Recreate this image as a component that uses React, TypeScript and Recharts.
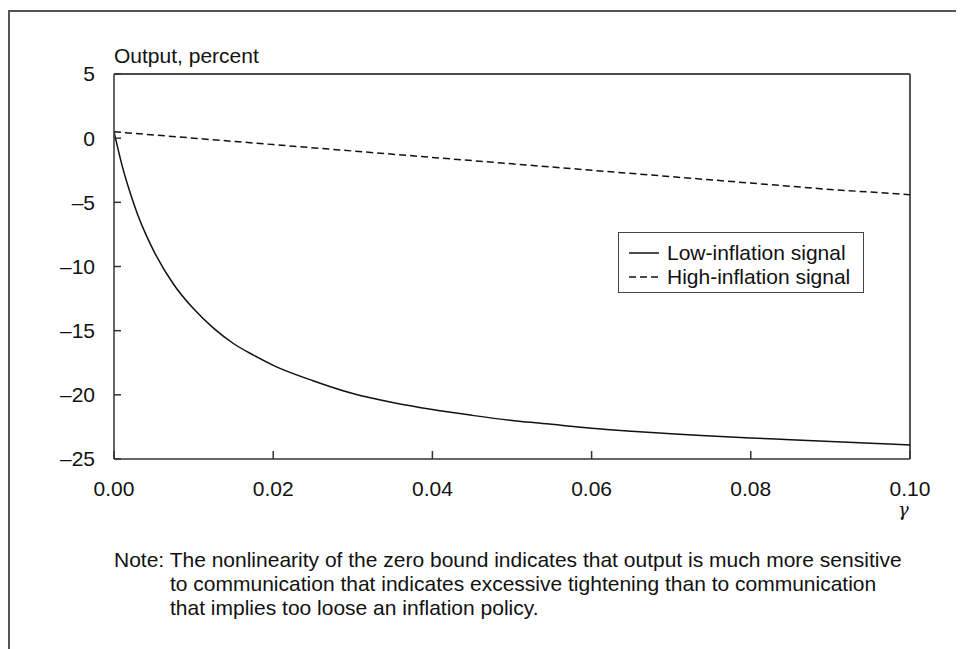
import React from 'react';
import { LineChart, Line, XAxis, YAxis, ReferenceLine } from 'recharts';

// gamma values and output (percent)
const lowGamma = [0, 0.001, 0.002, 0.003, 0.004, 0.005, 0.0075, 0.01, 0.0125, 0.015, 0.0175, 0.02, 0.025, 0.03, 0.035, 0.04, 0.045, 0.05, 0.055, 0.06, 0.065, 0.07, 0.075, 0.08, 0.085, 0.09, 0.095, 0.1];
const lowOutput = [0.5, -2.1, -4.2, -6.0, -7.5, -8.8, -11.4, -13.3, -14.8, -16.0, -16.9, -17.7, -18.9, -19.9, -20.6, -21.15, -21.6, -22.0, -22.3, -22.6, -22.83, -23.03, -23.2, -23.36, -23.5, -23.64, -23.77, -23.9];

const highGamma = [0, 0.01, 0.02, 0.03, 0.04, 0.05, 0.06, 0.07, 0.08, 0.09, 0.1];
const highOutput = [0.5, 0.0, -0.5, -1.0, -1.5, -2.0, -2.5, -3.0, -3.5, -4.0, -4.4];

const xTicks = [0, 0.02, 0.04, 0.06, 0.08, 0.1];
const yTicks = [-25, -20, -15, -10, -5, 0, 5];

const seriesNames = ['Low-inflation signal', 'High-inflation signal'];
const seriesDash = [undefined, '7 4'];

const lowData = lowGamma.map((g, i) => ({ g, v: lowOutput[i] }));
const highData = highGamma.map((g, i) => ({ g, v: highOutput[i] }));

const FONT = '"Liberation Sans", Arial, Helvetica, sans-serif';
const AXIS = '#333';
const FS = 21;

export default function App() {
  return (
    <div style={{ position: 'relative', width: 956, height: 641, fontFamily: FONT, color: '#111' }}>
      <div style={{ position: 'absolute', left: 0, top: 2, width: 956, height: 639, borderTop: '2px solid #555', borderLeft: '2px solid #555' }} />

      <div style={{ position: 'absolute', left: 106, top: 38, fontSize: FS, lineHeight: '20px', whiteSpace: 'nowrap' }}>Output, percent</div>

      <div style={{ position: 'absolute', left: 0, top: 0 }}>
        <LineChart width={956} height={520} margin={{ top: 66, right: 54, bottom: 29, left: 46 }}>
          <XAxis
            dataKey="g"
            type="number"
            domain={[0, 0.1]}
            ticks={xTicks}
            allowDataOverflow
            tickFormatter={(v: number) => v.toFixed(2)}
            tickSize={-8}
            tickMargin={30}
            height={40}
            stroke={AXIS}
            strokeWidth={1.5}
            tick={{ fill: '#111', fontSize: FS, fontFamily: FONT }}
          />
          <YAxis
            type="number"
            domain={[-25, 5]}
            ticks={yTicks}
            allowDataOverflow
            tickFormatter={(v: number) => String(v).replace('-', '\u2013')}
            tickSize={-7}
            tickMargin={26}
            width={60}
            stroke={AXIS}
            strokeWidth={1.5}
            tick={{ fill: '#111', fontSize: FS, fontFamily: FONT }}
          />
          <ReferenceLine y={5} stroke="#111" strokeWidth={1.5} />
          <ReferenceLine x={0.1} stroke="#555" strokeWidth={2} />
          <Line data={lowData} dataKey="v" name={seriesNames[0]} stroke="#111" strokeWidth={1.5} dot={false} type="monotone" isAnimationActive={false} />
          <Line data={highData} dataKey="v" name={seriesNames[1]} stroke="#111" strokeWidth={1.5} strokeDasharray={seriesDash[1]} dot={false} type="linear" isAnimationActive={false} />
        </LineChart>
      </div>

      {/* legend box */}
      <div style={{ position: 'absolute', left: 610, top: 224, width: 246, height: 61, boxSizing: 'border-box', border: '1.5px solid #444', background: '#fff', padding: '8px 0 0 10px', fontSize: FS, lineHeight: '24px' }}>
        {seriesNames.map((name, i) => (
          <div key={name} style={{ display: 'flex', alignItems: 'center', height: 24 }}>
            <svg width={38} height={10}>
              <line x1={0} y1={5} x2={30} y2={5} stroke="#111" strokeWidth={1.5} strokeDasharray={seriesDash[i]} />
            </svg>
            <span style={{ whiteSpace: 'nowrap' }}>{name}</span>
          </div>
        ))}
      </div>

      <div style={{ position: 'absolute', left: 890, top: 494, fontSize: 18, lineHeight: '16px', fontStyle: 'italic', fontFamily: '"DejaVu Serif", serif' }}>γ</div>

      <div style={{ position: 'absolute', left: 106, top: 540, fontSize: FS, lineHeight: '24px', whiteSpace: 'nowrap', paddingLeft: 56, textIndent: -56 }}>
        Note: The nonlinearity of the zero bound indicates that output is much more sensitive<br />
        to communication that indicates excessive tightening than to communication<br />
        that implies too loose an inflation policy.
      </div>
    </div>
  );
}
